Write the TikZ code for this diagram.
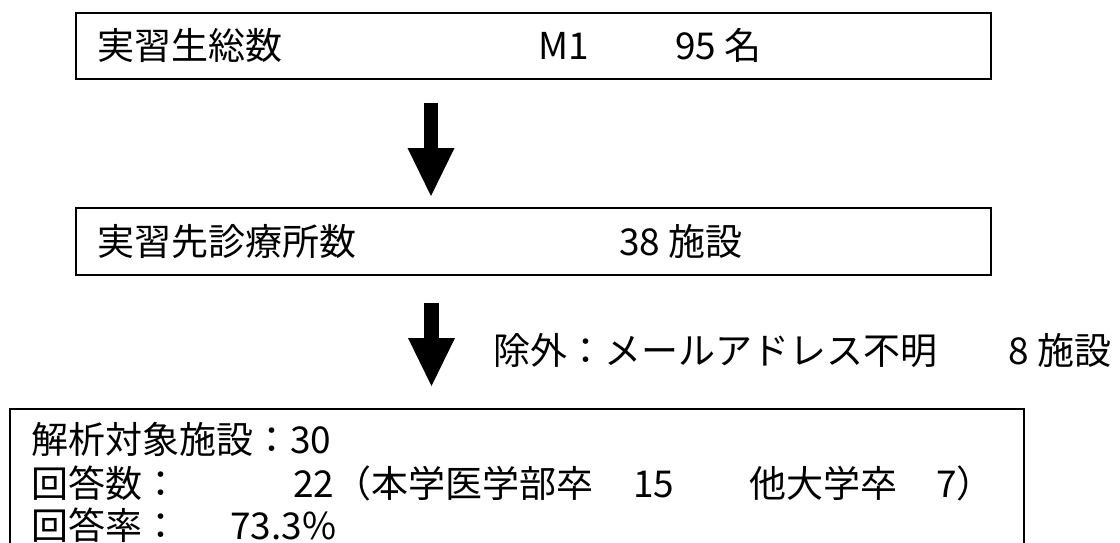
\documentclass[tikz,border=0pt]{standalone}
\usepackage{fontspec}
\newfontfamily\jp{Noto Sans CJK JP}
\usetikzlibrary{arrows.meta}
\begin{document}
\begin{tikzpicture}[x=1pt,y=-1pt,
  box/.style={draw,line width=1.5pt,inner sep=0pt},
  txt/.style={anchor=base west,inner sep=0pt,font=\jp\fontsize{37}{44}\selectfont},
  bigarrow/.style={line width=14.5pt,-{Triangle[width=47pt,length=48pt,line width=0pt]}}]
\useasboundingbox (0,0) rectangle (1120,542);
\clip (0,0) rectangle (1120,542);
% boxes
\node[box,minimum width=915pt,minimum height=66pt] (b1) at (533.5,46) {};
\node[box,minimum width=915pt,minimum height=67pt] (b2) at (533.5,241.5) {};
\node[box,minimum width=1014pt,minimum height=160pt] (b3) at (517,489) {};
% box 1 text
\node[txt] (t1a) at (97.5,59) {実習生総数};
\node[txt] (t1b) at (538.5,59) {M1};
\node[txt] (t1c) at (675,59) {95 名};
% box 2 text
\node[txt] (t2a) at (97.5,255) {実習先診療所数};
\node[txt] (t2b) at (619,255) {38 施設};
% exclusion label
\node[txt] (ex1) at (493,364) {除外：メールアドレス不明};
\node[txt] (ex2) at (1008,364) {8 施設};
% box 3 text
\node[txt] (r1) at (31,453.5) {解析対象施設：30};
\node[txt] (r2a) at (31,497.5) {回答数：};
\node[txt] (r2b) at (293,497.5) {22（本学医学部卒};
\node[txt] (r2c) at (633,497.5) {15};
\node[txt] (r2d) at (749,497.5) {他大学卒};
\node[txt] (r2e) at (936,497.5) {7）};
\node[txt] (r3a) at (31,539) {回答率：};
\node[txt] (r3b) at (230,539) {73.3\%};
% arrows
\coordinate (a1s) at (431,103);
\coordinate (a1e) at (431,196);
\coordinate (a2s) at (431.5,303);
\coordinate (a2e) at (431.5,386);
\draw[bigarrow] (a1s) -- (a1e);
\draw[bigarrow] (a2s) -- (a2e);
\end{tikzpicture}
\end{document}
